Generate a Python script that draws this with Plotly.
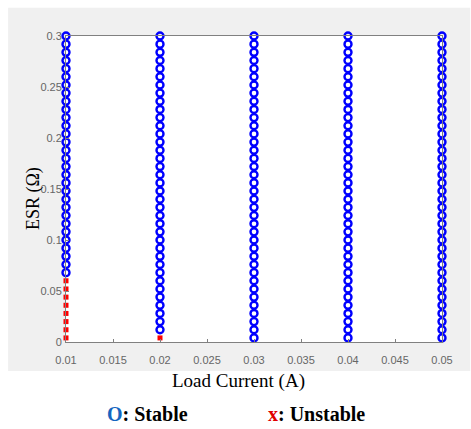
import plotly.graph_objects as go

# Data
load_current = [0.01, 0.02, 0.03, 0.04, 0.05]
esr_levels = [0.004, 0.012, 0.020, 0.028, 0.036, 0.044, 0.052, 0.060, 0.068, 0.076,
              0.084, 0.092, 0.100, 0.108, 0.116, 0.124, 0.132, 0.140, 0.148, 0.156,
              0.164, 0.172, 0.180, 0.188, 0.196, 0.204, 0.212, 0.220, 0.228, 0.236,
              0.244, 0.252, 0.260, 0.268, 0.276, 0.284, 0.292, 0.300]
# highest ESR that is unstable at each load current (None = all stable)
unstable_up_to = [0.060, 0.004, None, None, None]

x_ticks = [0.01, 0.015, 0.02, 0.025, 0.03, 0.035, 0.04, 0.045, 0.05]
x_tick_text = ["0.01", "0.015", "0.02", "0.025", "0.03", "0.035", "0.04", "0.045", "0.05"]
y_ticks = [0, 0.05, 0.1, 0.15, 0.2, 0.25, 0.3]
y_tick_text = ["0", "0.05", "0.1", "0.15", "0.2", "0.25", "0.3"]

sx, sy, ux, uy = [], [], [], []
for cur, lim in zip(load_current, unstable_up_to):
    for e in esr_levels:
        if lim is not None and e <= lim + 1e-9:
            ux.append(cur); uy.append(e)
        else:
            sx.append(cur); sy.append(e)

fig = go.Figure()
fig.add_trace(go.Scatter(x=sx, y=sy, mode="markers", cliponaxis=False,
                         marker=dict(symbol="circle-open", size=7, color="#0000ff",
                                     line=dict(width=2.4, color="#0000ff")),
                         showlegend=False))
fig.add_trace(go.Scatter(x=ux, y=uy, mode="markers", cliponaxis=False,
                         marker=dict(symbol="square", size=5, color="#ff0000",
                                     line=dict(width=0)),
                         showlegend=False))

axis_common = dict(showline=True, linecolor="#808080", linewidth=1, mirror=True,
                   ticks="inside", ticklen=3, tickcolor="#808080", showgrid=False,
                   zeroline=False,
                   tickfont=dict(family="Liberation Sans, Arial", size=11, color="#666666"))

fig.update_xaxes(range=[0.01, 0.05], tickvals=x_ticks, ticktext=x_tick_text,
                 ticklabelstandoff=8, **axis_common)
fig.update_yaxes(range=[0, 0.3], tickvals=y_ticks, ticktext=y_tick_text,
                 ticklabelstandoff=1, **axis_common)

serif = "Liberation Serif, Times New Roman"
fig.update_layout(
    width=471, height=429,
    margin=dict(l=66, r=29, t=36, b=87),
    paper_bgcolor="white", plot_bgcolor="white",
    shapes=[dict(type="rect", xref="paper", yref="paper",
                 x0=-0.154, x1=1.075, y0=-0.095, y1=1.092,
                 fillcolor="#f0f0f0", line=dict(width=0), layer="below"),
            dict(type="rect", xref="paper", yref="paper",
                 x0=0, x1=1, y0=0, y1=1,
                 fillcolor="white", line=dict(width=0), layer="below")],
    annotations=[
        dict(text="ESR (Ω)", xref="paper", yref="paper", x=-0.088, y=0.47,
             xanchor="center", yanchor="middle",
             textangle=-90, showarrow=False,
             font=dict(family=serif, size=18, color="black")),
        dict(text="Load Current (A)", xref="paper", yref="paper", x=0.46, y=-0.127,
             xanchor="center", yanchor="middle", showarrow=False,
             font=dict(family=serif, size=19, color="black")),
        dict(text="<b><span style='color:#1565c0'>O</span>: Stable</b>", xref="paper", yref="paper",
             x=0.218, y=-0.235, xanchor="center", yanchor="middle", showarrow=False,
             font=dict(family=serif, size=20, color="black")),
        dict(text="<b><span style='color:#e00000'>x</span>: Unstable</b>", xref="paper", yref="paper",
             x=0.665, y=-0.235, xanchor="center", yanchor="middle", showarrow=False,
             font=dict(family=serif, size=20, color="black")),
    ],
)

fig.write_html("out.html")
